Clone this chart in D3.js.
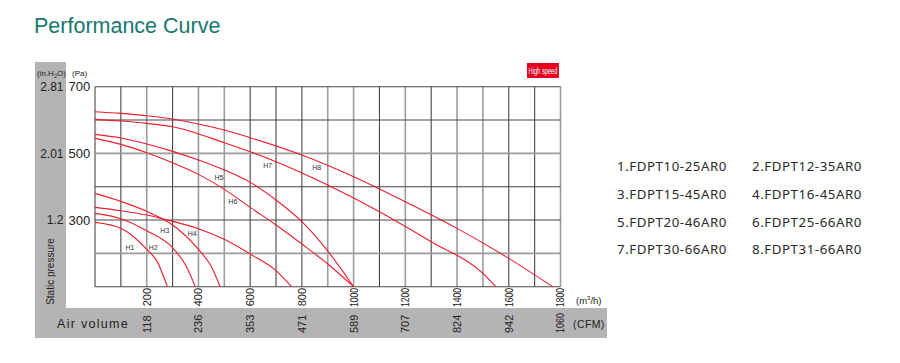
<!DOCTYPE html>
<html>
<head>
<meta charset="utf-8">
<script src="https://cdn.jsdelivr.net/npm/d3@7"></script>
<style>
  body { margin: 0; background: #fff; }
  svg { display: block; font-family: "Liberation Sans", Arial, sans-serif; }
</style>
</head>
<body>
<svg id="chart" width="900" height="363"></svg>
<script>
// m3/h ticks and the matching CFM values
const flowTicks = [200, 400, 600, 800, 1000, 1200, 1400, 1600, 1800];
const cfmTicks = ['118', '236', '353', '471', '589', '707', '824', '942', '1060'];
// pressure ticks (Pa) and matching in.H2O
const paTicks = [700, 500, 300];
const inchTicks = ['2.81', '2.01', '1.2'];

// curves: [air volume m3/h, static pressure Pa]
const h1 = [[0, 293], [100, 275], [200, 212], [240, 176], [280, 100]];
const h2 = [[0, 320], [100, 304], [200, 268], [300, 217], [350, 165], [388, 100]];
const h3 = [[0, 380], [100, 356], [200, 326], [300, 285], [400, 212], [450, 160], [484, 100]];
const h4 = [[0, 338], [100, 328], [200, 315], [300, 296], [400, 274], [500, 242], [600, 198], [700, 148], [760, 100]];
const h5 = [[0, 557], [100, 546], [200, 528], [300, 506], [400, 480], [500, 450], [600, 413], [700, 360], [800, 295], [900, 207], [1000, 100]];
const h6 = [[0, 545], [100, 527], [200, 502], [300, 472], [400, 437], [500, 392], [600, 338], [700, 285], [800, 228], [900, 168], [1000, 100]];
const h7 = [[0, 602], [100, 597], [200, 590], [300, 580], [500, 532], [700, 475], [900, 405], [1100, 325], [1300, 235], [1500, 140], [1550, 100]];
const h8 = [[0, 625], [100, 620], [200, 613], [300, 603], [400, 588], [500, 570], [600, 547], [800, 495], [1000, 430], [1200, 355], [1400, 275], [1600, 185], [1770, 100]];
const curveNames = ['H1', 'H2', 'H3', 'H4', 'H5', 'H6', 'H7', 'H8'];
// where each curve's tag sits, in data units
const tagAt = [[135, 217], [225, 217], [270, 268], [376, 258], [479, 426], [533, 354], [668, 462], [857, 458]];

const models = ['1.FDPT10-25AR0', '2.FDPT12-35AR0', '3.FDPT15-45AR0', '4.FDPT16-45AR0',
                '5.FDPT20-46AR0', '6.FDPT25-66AR0', '7.FDPT30-66AR0', '8.FDPT31-66AR0'];

const svg = d3.select('#chart');
const x = d3.scaleLinear().domain([0, 1800]).range([95, 560.5]);
const y = d3.scaleLinear().domain([100, 700]).range([286.7, 86.7]);
const red = '#ec1c2c';
const panel = '#b4b4b4';

// title
svg.append('text').attr('x', 34).attr('y', 33)
  .attr('font-size', 21.5).attr('fill', '#17776f').text('Performance Curve');

// grey frame: left column + bottom band
svg.append('rect').attr('x', 35).attr('y', 62).attr('width', 31).attr('height', 276).attr('fill', panel);
svg.append('rect').attr('x', 35).attr('y', 308).attr('width', 572).attr('height', 30).attr('fill', panel);

// grid
const lightX = new Set([200, 400, 500, 900, 1000, 1200, 1400, 1500, 1800]);
const lightY = new Set([500, 200]);
const grid = svg.append('g');
grid.selectAll('line.v').data(d3.range(0, 1801, 100)).join('line')
  .attr('x1', d => x(d)).attr('x2', d => x(d))
  .attr('y1', y(700)).attr('y2', y(100))
  .attr('stroke', d => lightX.has(d) ? '#9c9c9c' : '#4a4444')
  .attr('stroke-width', d => lightX.has(d) ? 1.6 : 1.1);
grid.selectAll('line.h').data(d3.range(100, 701, 100)).join('line')
  .attr('x1', x(0)).attr('x2', x(1800))
  .attr('y1', d => y(d)).attr('y2', d => y(d))
  .attr('stroke', d => lightY.has(d) ? '#9c9c9c' : '#4a4444')
  .attr('stroke-width', d => lightY.has(d) ? 1.6 : 1.1);

// curves
const line = d3.line().x(d => x(d[0])).y(d => y(d[1])).curve(d3.curveMonotoneX);
svg.append('g').selectAll('path').data([h1, h2, h3, h4, h5, h6, h7, h8]).join('path')
  .attr('d', line).attr('fill', 'none').attr('stroke', red).attr('stroke-width', 1.1);

svg.append('g').selectAll('text').data(curveNames).join('text')
  .attr('x', (d, i) => x(tagAt[i][0])).attr('y', (d, i) => y(tagAt[i][1]))
  .attr('dy', '0.35em').attr('text-anchor', 'middle')
  .attr('font-size', 7).attr('fill', '#333').text(d => d);

// y labels
svg.append('g').selectAll('text').data(paTicks).join('text')
  .attr('x', 68.5).attr('y', d => y(d)).attr('dy', '0.36em')
  .attr('font-size', 13).attr('fill', '#222').text(d => d);
svg.append('g').selectAll('text').data(inchTicks).join('text')
  .attr('x', 63.5).attr('y', (d, i) => y(paTicks[i])).attr('dy', '0.36em')
  .attr('text-anchor', 'end').attr('font-size', 12).attr('fill', '#222').text(d => d);

const unitIn = svg.append('text').attr('x', 37).attr('y', 76).attr('font-size', 8).attr('fill', '#222');
unitIn.append('tspan').text('(in.H');
unitIn.append('tspan').attr('font-size', 5.5).attr('dy', 1.5).text('2');
unitIn.append('tspan').attr('dy', -1.5).text('O)');
svg.append('text').attr('x', 72).attr('y', 76).attr('font-size', 8).attr('fill', '#222').text('(Pa)');

svg.append('text').attr('transform', 'translate(53.5,271.5) rotate(-90)')
  .attr('text-anchor', 'middle').attr('font-size', 10).attr('fill', '#222').text('Static pressure');

// x labels (rotated)
svg.append('g').selectAll('text').data(flowTicks).join('text')
  .attr('transform', d => `translate(${x(d)},288) rotate(-90)`)
  .attr('dy', '0.36em').attr('text-anchor', 'end')
  .attr('font-size', 11).attr('fill', '#222')
  .attr('textLength', d => String(d).length > 3 ? 19 : null)
  .attr('lengthAdjust', 'spacingAndGlyphs')
  .text(d => d);
svg.append('g').selectAll('text').data(cfmTicks).join('text')
  .attr('transform', (d, i) => `translate(${x(flowTicks[i])},333) rotate(-90)`)
  .attr('dy', '0.36em').attr('text-anchor', 'start')
  .attr('font-size', 11).attr('fill', '#222')
  .attr('textLength', d => d.length > 3 ? 20 : null)
  .attr('lengthAdjust', 'spacingAndGlyphs')
  .text(d => d);

const unitM = svg.append('text').attr('x', 576).attr('y', 303.5).attr('font-size', 9.5).attr('fill', '#222');
unitM.append('tspan').text('(m');
unitM.append('tspan').attr('font-size', 6).attr('dy', -3.5).text('3');
unitM.append('tspan').attr('dy', 3.5).text('/h)');
svg.append('text').attr('x', 573).attr('y', 327.5).attr('font-size', 10.5)
  .attr('letter-spacing', 0.4).attr('fill', '#222').text('(CFM)');

svg.append('text').attr('x', 57).attr('y', 328).attr('font-size', 12.5)
  .attr('letter-spacing', 1.3).attr('fill', '#222').text('Air volume');

// high speed tag
svg.append('rect').attr('x', 527).attr('y', 63).attr('width', 32).attr('height', 15).attr('fill', '#e60020');
svg.append('text').attr('x', 543).attr('y', 73.5).attr('text-anchor', 'middle')
  .attr('font-size', 9).attr('fill', '#fff').attr('textLength', 29).attr('lengthAdjust', 'spacingAndGlyphs')
  .text('High speed');

// legend of models
svg.append('g').selectAll('text').data(models).join('text')
  .attr('x', (d, i) => i % 2 === 0 ? 617 : 752)
  .attr('y', (d, i) => 171.4 + Math.floor(i / 2) * 27.6)
  .attr('font-family', '"Noto Sans", sans-serif').attr('font-size', 13.3)
  .attr('letter-spacing', 0.55)
  .attr('fill', '#2a2a2a').text(d => d);
</script>
</body>
</html>
